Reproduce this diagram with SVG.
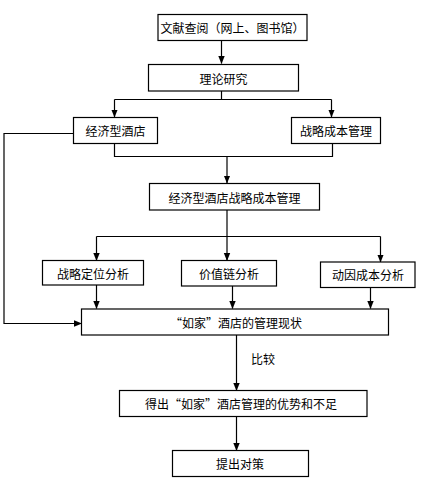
<svg xmlns="http://www.w3.org/2000/svg" width="421" height="486" viewBox="0 0 421 486">
<defs>
<marker id="ah" viewBox="0 0 8 8" refX="7.5" refY="4" markerWidth="8" markerHeight="8" markerUnits="userSpaceOnUse" orient="auto">
<path d="M0,0.8 L8,4 L0,7.2 Z" fill="#000"/>
</marker>
<style>
.b{fill:#fff;stroke:#000;stroke-width:1.2}
.t{font-family:"Noto Sans CJK SC","Noto Sans",sans-serif;font-size:12px;fill:#000;text-anchor:middle;dominant-baseline:central}
.c{fill:none;stroke:#000;stroke-width:1.2}
</style>
</defs>
<rect width="421" height="486" fill="#fff"/>
<g id="connectors">
<path class="c" d="M221.5,40.5 V63.5" marker-end="url(#ah)"/>
<path class="c" d="M221.5,91 V99.5"/>
<path class="c" d="M114.5,99.5 H331.5"/>
<path class="c" d="M114.5,99.5 V117" marker-end="url(#ah)"/>
<path class="c" d="M331.5,99.5 V117" marker-end="url(#ah)"/>
<path class="c" d="M73.5,133.5 H4 V323.5 H81.5" marker-end="url(#ah)"/>
<path class="c" d="M114.5,143.5 V156.5 H332.5 V143.5"/>
<path class="c" d="M227,156.5 V183" marker-end="url(#ah)"/>
<path class="c" d="M227,210 V236.5"/>
<path class="c" d="M96.5,236.5 H380.5"/>
<path class="c" d="M96.5,236.5 V260.5" marker-end="url(#ah)"/>
<path class="c" d="M227,236.5 V260.5" marker-end="url(#ah)"/>
<path class="c" d="M380.5,236.5 V262" marker-end="url(#ah)"/>
<path class="c" d="M96.5,285 V308.5" marker-end="url(#ah)"/>
<path class="c" d="M232.5,286 V308.5" marker-end="url(#ah)"/>
<path class="c" d="M370.5,287.5 V308.5" marker-end="url(#ah)"/>
<path class="c" d="M236.5,335 V390.5" marker-end="url(#ah)"/>
<text class="t" x="263" y="358">比较</text>
<path class="c" d="M236.5,416.5 V450.5" marker-end="url(#ah)"/>
</g>
<g id="n1"><rect class="b" x="158" y="14.5" width="149" height="26"/><text class="t" x="232.5" y="27.5">文献查阅（网上、图书馆）</text></g>
<g id="n2"><rect class="b" x="148.5" y="64.5" width="150" height="26.5"/><text class="t" x="223.5" y="78">理论研究</text></g>
<g id="n3"><rect class="b" x="73.5" y="117.5" width="84" height="26"/><text class="t" x="115.5" y="130.5">经济型酒店</text></g>
<g id="n4"><rect class="b" x="291.5" y="117.5" width="89" height="26"/><text class="t" x="336" y="130.5">战略成本管理</text></g>
<g id="n5"><rect class="b" x="149.5" y="183.5" width="170" height="26.5"/><text class="t" x="234.5" y="197">经济型酒店战略成本管理</text></g>
<g id="n6"><rect class="b" x="42.5" y="260.5" width="101" height="24.5"/><text class="t" x="93" y="273">战略定位分析</text></g>
<g id="n7"><rect class="b" x="181.5" y="260.5" width="95" height="25.5"/><text class="t" x="229" y="273">价值链分析</text></g>
<g id="n8"><rect class="b" x="320.5" y="262" width="94.5" height="25.5"/><text class="t" x="368" y="274.5">动因成本分析</text></g>
<g id="n9"><rect class="b" x="81.5" y="309" width="307" height="26"/><text class="t" x="236" y="322">“如家”酒店的管理现状</text></g>
<g id="n10"><rect class="b" x="119.5" y="390.5" width="247.5" height="26"/><text class="t" x="241" y="403.5">得出“如家”酒店管理的优势和不足</text></g>
<g id="n11"><rect class="b" x="172.5" y="450.5" width="136" height="26"/><text class="t" x="240" y="463.5">提出对策</text></g>
</svg>
